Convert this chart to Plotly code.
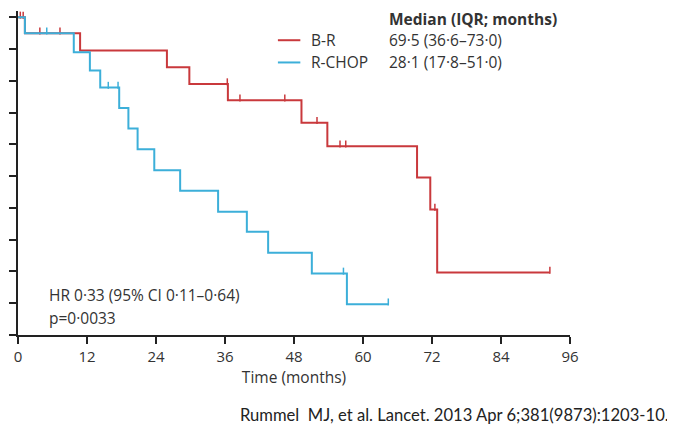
import plotly.graph_objects as go

# Kaplan-Meier step data (months, survival fraction)
br_times = [0, 1.2, 10.8, 25.9, 29.8, 36.5, 49.3, 53.8, 69.4, 71.7, 72.9, 92.5]
br_surv = [1.0, 0.95, 0.896, 0.843, 0.79, 0.739, 0.668, 0.594, 0.496, 0.395, 0.197, 0.197]
br_censor = [0.4, 0.9, 3.8, 7.3, 36.4, 38.6, 46.4, 52.0, 56.0, 57.0, 72.5, 92.5]

rc_times = [0, 1.2, 9.7, 12.5, 14.3, 17.6, 19.2, 20.8, 23.7, 28.2, 34.8, 39.8, 43.5, 51.1, 57.2, 64.4]
rc_surv = [1.0, 0.95, 0.89, 0.833, 0.779, 0.715, 0.65, 0.585, 0.519, 0.454, 0.388, 0.325, 0.259, 0.194, 0.097, 0.097]
rc_censor = [5.0, 15.7, 17.4, 56.6, 64.4]

x_ticks = [0, 12, 24, 36, 48, 60, 72, 84, 96]
y_ticks = [0, 0.1, 0.2, 0.3, 0.4, 0.5, 0.6, 0.7, 0.8, 0.9, 1.0]

RED = "#c9393c"
BLUE = "#3cafd9"
TXT = "#333333"


def surv_at(times, surv, t):
    v = surv[0]
    for ti, si in zip(times, surv):
        if ti <= t:
            v = si
    return v


fig = go.Figure()
for times, surv, cens, col in [(br_times, br_surv, br_censor, RED),
                               (rc_times, rc_surv, rc_censor, BLUE)]:
    fig.add_trace(go.Scatter(x=times, y=surv, mode="lines", line=dict(color=col, width=2, shape="hv"),
                             showlegend=False, hoverinfo="skip"))
    fig.add_trace(go.Scatter(x=cens, y=[surv_at(times, surv, c) + 0.007 for c in cens], mode="markers",
                             marker=dict(symbol="line-ns", size=5, line=dict(color=col, width=1.5)),
                             showlegend=False, hoverinfo="skip"))

# custom legend lines
fig.add_shape(type="line", x0=45.2, x1=49.1, y0=0.928, y1=0.928, line=dict(color=RED, width=2))
fig.add_shape(type="line", x0=45.2, x1=49.1, y0=0.858, y1=0.858, line=dict(color=BLUE, width=2))

font_main = "Open Sans, Liberation Sans, sans-serif"
anns = [
    dict(x=64.2, y=0.995, text="<b>Median (IQR; months)</b>", size=15.5),
    dict(x=50.6, y=0.928, text="B-R", size=15.5),
    dict(x=50.6, y=0.858, text="R-CHOP", size=15.5),
    dict(x=64.2, y=0.928, text="69·5 (36·6–73·0)", size=15.5),
    dict(x=64.2, y=0.858, text="28·1 (17·8–51·0)", size=15.5),
    dict(x=5.0, y=0.126, text="HR 0·33 (95% CI 0·11–0·64)", size=15.5),
    dict(x=5.0, y=0.053, text="p=0·0033", size=15.5),
]
for a in anns:
    fig.add_annotation(x=a["x"], y=a["y"], xref="x", yref="y", text=a["text"], showarrow=False,
                       xanchor="left", yanchor="middle", font=dict(family=font_main, size=a["size"], color=TXT))

fig.add_annotation(x=0.3986, y=-0.247, xref="paper", yref="paper", xanchor="left", yanchor="middle",
                   text="Rummel  MJ, et al. Lancet. 2013 Apr 6;381(9873):1203-10.", showarrow=False,
                   font=dict(family="Lato, Liberation Sans, sans-serif", size=16.6, color="#222222"))

fig.update_xaxes(range=[0, 96], tickvals=x_ticks, ticktext=[str(v) for v in x_ticks],
                 showline=True, linecolor="#222222", linewidth=1.5, ticks="outside", ticklen=7,
                 tickcolor="#222222", tickwidth=1.5, showgrid=False, zeroline=False,
                 tickfont=dict(family=font_main, size=15, color=TXT),
                 title=dict(text="Time (months)", font=dict(family=font_main, size=15.5, color=TXT), standoff=4))
fig.update_yaxes(range=[0, 1.02], tickvals=y_ticks, showticklabels=False,
                 showline=True, linecolor="#222222", linewidth=1.5, ticks="outside", ticklen=7,
                 tickcolor="#222222", tickwidth=1.5, showgrid=False, zeroline=False)

fig.update_layout(width=667, height=418, margin=dict(l=10, r=105, t=3, b=91),
                  plot_bgcolor="white", paper_bgcolor="white")

fig.write_html("out.html")
